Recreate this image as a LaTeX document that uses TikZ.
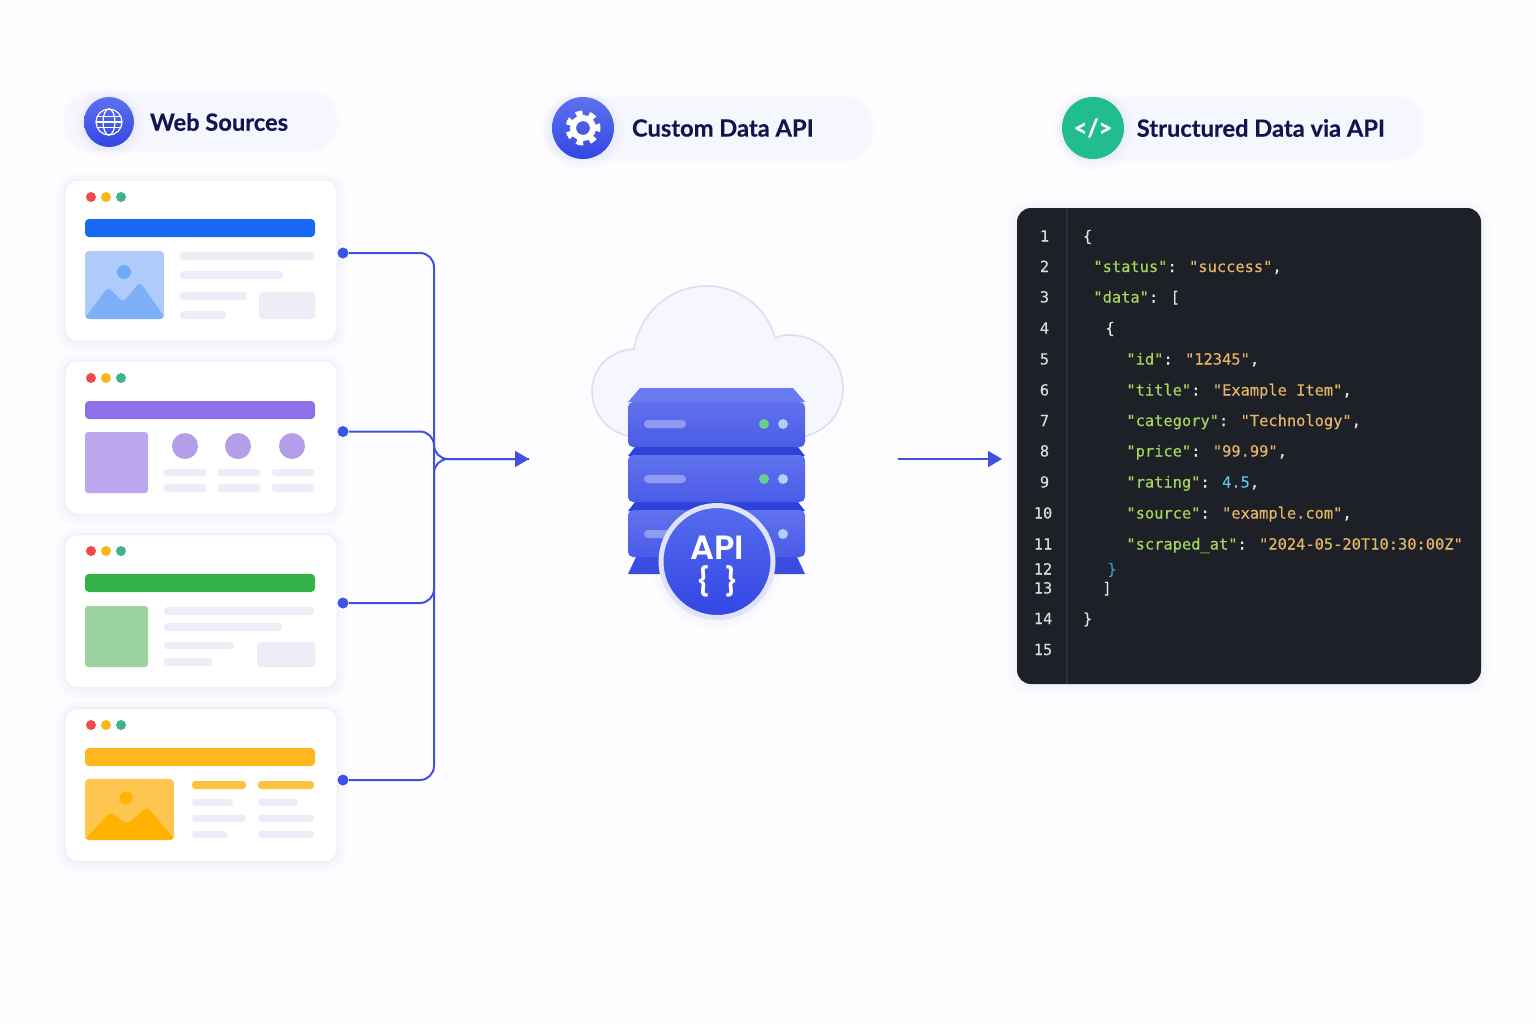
\documentclass[tikz,border=0pt]{standalone}
\usepackage{fontspec}
\usepackage{tikz}
\usetikzlibrary{arrows.meta,positioning,shapes.geometric}
\setmainfont{Poppins}
\newfontfamily\headfont{Poppins}[UprightFont={* Medium},BoldFont={* SemiBold}]
\newfontfamily\titlefont{Lato}[BoldFeatures={FakeBold=.4}]
\newfontfamily\codefont{DejaVu Sans Mono}[FakeBold=.25]

\definecolor{pagebg}{HTML}{FDFDFF}
\definecolor{pillbg}{HTML}{F5F6FE}
\definecolor{navy}{HTML}{12134F}
\definecolor{wire}{HTML}{3F51DD}
\definecolor{wiredot}{HTML}{3B54E8}
\definecolor{halo}{HTML}{5C66C8}
\definecolor{cardline}{HTML}{EEEFF8}
\definecolor{cloudline}{HTML}{DCDEF4}
\definecolor{skelgray}{HTML}{ECEDF6}
\definecolor{dotred}{HTML}{EF4B4B}
\definecolor{dotyellow}{HTML}{FBB614}
\definecolor{dotgreen}{HTML}{3CB491}
\definecolor{blueA}{HTML}{5C72EE}
\definecolor{blueB}{HTML}{3346E4}
\definecolor{unitA}{HTML}{6172EE}
\definecolor{unitB}{HTML}{4A5BE8}
\definecolor{unitdark}{HTML}{2F41DC}
\definecolor{unitfoot}{HTML}{3A4CE2}
\definecolor{ledgreen}{HTML}{66CF8E}
\definecolor{ledblue}{HTML}{A9D3FA}
\definecolor{codegreen}{HTML}{21BD8D}
\definecolor{panelbg}{HTML}{1D2026}
\definecolor{panelsep}{HTML}{2C2F36}
\definecolor{numgray}{HTML}{D9DBDE}
\definecolor{keygreen}{HTML}{A5D65A}
\definecolor{strorange}{HTML}{E5B567}
\definecolor{numblue}{HTML}{5CC1E8}
\definecolor{braceblue}{HTML}{3A9EC9}
\definecolor{punct}{HTML}{E4E5E8}

\newcommand{\ck}[1]{\textcolor{keygreen}{#1}}
\newcommand{\cs}[1]{\textcolor{strorange}{#1}}
\newcommand{\cn}[1]{\textcolor{numblue}{#1}}

\begin{document}
\begin{tikzpicture}[x=0.5pt,y=-0.5pt,>={Triangle[length=7pt,width=8pt]},node distance=2.1pt]
  \tikzstyle{softhalo}=[preaction={draw=halo,draw opacity=.014,line width=9pt,transform canvas={yshift=-1pt}},
                        preaction={draw=halo,draw opacity=.016,line width=5.5pt,transform canvas={yshift=-1pt}},
                        preaction={draw=halo,draw opacity=.02,line width=2.5pt,transform canvas={yshift=-.5pt}}]
  \tikzstyle{pill}=[rectangle,rounded corners=14pt,fill=pillbg,inner sep=0pt,minimum height=30pt,
                    preaction={draw=halo,draw opacity=.012,line width=3pt}]
  \tikzstyle{icon}=[circle,inner sep=0pt,softhalo]
  \tikzstyle{blueicon}=[icon,top color=blueA,bottom color=blueB]
  \tikzstyle{headline}=[text=navy,inner sep=0pt,font=\titlefont\bfseries\fontsize{11.85}{14}\selectfont]
  \tikzstyle{card}=[rectangle,rounded corners=6pt,fill=white,draw=cardline,line width=.5pt,
                    minimum width=136pt,inner sep=0pt,softhalo]
  \tikzstyle{wdot}=[circle,minimum size=5pt,inner sep=0pt]
  \tikzstyle{skel}=[fill=skelgray,rounded corners=1.6pt]
  \tikzstyle{hbar}=[rounded corners=2pt]
  \tikzstyle{port}=[circle,fill=wiredot,minimum size=5.5pt,inner sep=0pt]
  \tikzstyle{link}=[draw=wire,line width=1pt,rounded corners=7pt]
  \tikzstyle{unit}=[rectangle,rounded corners=2.5pt,minimum width=88.5pt,inner sep=0pt,top color=unitA,bottom color=unitB]
  \tikzstyle{slot}=[fill=white,fill opacity=.35,rounded corners=2pt]
  \tikzstyle{ledg}=[circle,fill=ledgreen,minimum size=5pt,inner sep=0pt]
  \tikzstyle{ledb}=[circle,fill=ledblue,minimum size=5pt,inner sep=0pt]
  \tikzstyle{codeline}=[anchor=base west,inner sep=0pt,text=punct,font=\codefont\fontsize{7.69}{9}\selectfont]
  \tikzstyle{numline}=[anchor=base,inner sep=0pt,text=numgray,font=\codefont\fontsize{7.69}{9}\selectfont]

  \useasboundingbox (0,0) rectangle (1536,1024);
  \fill[pagebg] (0,0) rectangle (1536,1024);

  % headers
  \node[pill,minimum width=136pt,minimum height=29.5pt] (webpill) at (201,121.5) {};
  \node[blueicon,minimum size=25pt] (globe) at (109,122) {};
  \node[headline,right=7.6pt of globe] (webtitle) {Web Sources};
  \draw[white,line width=.6pt] (globe.center) circle [radius=13];
  \draw[white,line width=.6pt] (globe.center) ellipse [x radius=6,y radius=13];
  \draw[white,line width=.6pt] (97.2,116.5) -- (120.8,116.5) (96,122) -- (122,122) (97.2,127.5) -- (120.8,127.5);

  \node[pill,minimum width=163.5pt,minimum height=31.5pt] (apipill) at (708.5,128.5) {};
  \node[blueicon,minimum size=31pt] (gear) at (583,128) {};
  \node[headline,right=8.6pt of gear] (apititle) {Custom Data API};
  \draw[white,line width=2.5pt,dash pattern=on 3.34pt off 3.34pt,dash phase=1.67pt] (gear.center) circle [radius=15];
  \draw[white,line width=3pt] (gear.center) circle [radius=10];

  \node[pill,minimum width=181pt,minimum height=31.5pt] (datapill) at (1241.5,128.5) {};
  \node[icon,fill=codegreen,minimum size=31pt] (code) at (1093,128) {};
  \node[headline,right=6pt of code] (datatitle) {Structured Data via API};
  \node[inner sep=0pt,text=white,font=\titlefont\bfseries\fontsize{12}{14}\selectfont] (codeglyph) at (code.center) {</>};

  % web page cards
  \node[card,minimum height=80.5pt] (web1) at (201,260.5) {};
  \node[wdot,fill=dotred] (w1a) at (91,197) {};
  \node[wdot,fill=dotyellow,right=of w1a] (w1b) {};
  \node[wdot,fill=dotgreen,right=of w1b] (w1c) {};
  \fill[hbar,fill={rgb,255:red,23;green,105;blue,245}] (85,219) rectangle (315,237);
  \begin{scope}
    \clip[rounded corners=2pt] (85,251) rectangle (164,319);
    \fill[fill={rgb,255:red,174;green,203;blue,250}] (85,251) rectangle (164,319);
    \fill[fill={rgb,255:red,125;green,176;blue,248},rounded corners=2pt] (80,325) -- (108,287) -- (123,302) -- (140,282) -- (170,325) -- cycle;
  \end{scope}
  \fill[fill={rgb,255:red,110;green,168;blue,248}] (124,272) circle [radius=7];
  \fill[skel] (180,252) rectangle (314,260);
  \fill[skel] (180,271) rectangle (283,279);
  \fill[skel] (180,292) rectangle (247,300);
  \fill[skel] (180,311) rectangle (226,319);
  \fill[skel] (259,292) rectangle (315,319);

  \node[card,minimum height=76.5pt] (web2) at (201,437.5) {};
  \node[wdot,fill=dotred] (w2a) at (91,378) {};
  \node[wdot,fill=dotyellow,right=of w2a] (w2b) {};
  \node[wdot,fill=dotgreen,right=of w2b] (w2c) {};
  \fill[hbar,fill={rgb,255:red,143;green,112;blue,232}] (85,401) rectangle (315,419);
  \fill[fill={rgb,255:red,188;green,166;blue,238},rounded corners=1.5pt] (85,432) rectangle (148,493);
  \fill[fill={rgb,255:red,180;green,158;blue,234}] (185,446) circle [radius=13];
  \fill[fill={rgb,255:red,180;green,158;blue,234}] (238,446) circle [radius=13];
  \fill[fill={rgb,255:red,180;green,158;blue,234}] (292,446) circle [radius=13];
  \fill[skel] (164,469) rectangle (206,476);
  \fill[skel] (218,469) rectangle (260,476);
  \fill[skel] (272,469) rectangle (314,476);
  \fill[skel] (164,484) rectangle (206,492);
  \fill[skel] (218,484) rectangle (260,492);
  \fill[skel] (272,484) rectangle (314,492);

  \node[card,minimum height=76.5pt] (web3) at (201,611) {};
  \node[wdot,fill=dotred] (w3a) at (91,551) {};
  \node[wdot,fill=dotyellow,right=of w3a] (w3b) {};
  \node[wdot,fill=dotgreen,right=of w3b] (w3c) {};
  \fill[hbar,fill={rgb,255:red,52;green,178;blue,74}] (85,574) rectangle (315,592);
  \fill[fill={rgb,255:red,157;green,211;blue,160},rounded corners=1.5pt] (85,606) rectangle (148,667);
  \fill[skel] (164,607) rectangle (314,615);
  \fill[skel] (164,623) rectangle (282,631);
  \fill[skel] (164,642) rectangle (234,649);
  \fill[skel] (164,658) rectangle (212,666);
  \fill[skel] (257,642) rectangle (315,667);

  \node[card,minimum height=76.5pt] (web4) at (201,785) {};
  \node[wdot,fill=dotred] (w4a) at (91,725) {};
  \node[wdot,fill=dotyellow,right=of w4a] (w4b) {};
  \node[wdot,fill=dotgreen,right=of w4b] (w4c) {};
  \fill[hbar,fill={rgb,255:red,255;green,184;blue,31}] (85,748) rectangle (315,766);
  \begin{scope}
    \clip[rounded corners=2pt] (85,779) rectangle (174,840);
    \fill[fill={rgb,255:red,255;green,198;blue,79}] (85,779) rectangle (174,840);
    \fill[fill={rgb,255:red,255;green,179;blue,0},rounded corners=2pt] (80,845) -- (110,812) -- (127,824) -- (147,807) -- (180,845) -- cycle;
  \end{scope}
  \fill[fill={rgb,255:red,255;green,179;blue,0}] (126,798) circle [radius=6.5];
  \fill[skel,fill={rgb,255:red,253;green,194;blue,62}] (192,781) rectangle (246,789);
  \fill[skel,fill={rgb,255:red,253;green,194;blue,62}] (258,781) rectangle (314,789);
  \fill[skel] (192,799) rectangle (233,806);
  \fill[skel] (258,799) rectangle (298,806);
  \fill[skel] (192,815) rectangle (246,822);
  \fill[skel] (258,815) rectangle (314,822);
  \fill[skel] (192,831) rectangle (227,838);
  \fill[skel] (258,831) rectangle (314,838);

  % connectors
  \node[port] (p1) at (343,253) {};
  \node[port] (p2) at (343,431.5) {};
  \node[port] (p3) at (343,603) {};
  \node[port] (p4) at (343,780) {};
  \coordinate (bus) at (434,459);
  \coordinate (busend) at (529,459);
  \coordinate (apiout) at (898,459);
  \coordinate (apiin) at (1002,459);
  \draw[link,->] (p1) -| (bus) -- (busend);
  \draw[link] (p4) -| (bus) -- (busend);
  \draw[link] (p2) -| (bus);
  \draw[link] (p3) -| (bus);
  \draw[link,->] (apiout) -- (apiin);

  % cloud and server
  \draw[fill=pillbg,draw=cloudline,line width=.8pt]
    (628,436) .. controls (606,431) and (592,412) .. (592,391)
    .. controls (592,368) and (610,350) .. (634,349)
    .. controls (640,313) and (670,286) .. (706,286)
    .. controls (740,286) and (767,308) .. (775,338)
    .. controls (782,335) and (786,335) .. (790,335)
    .. controls (820,335) and (843,360) .. (843,388)
    .. controls (843,412) and (828,430) .. (806,436) -- cycle;
  \fill[fill={rgb,255:red,106;green,122;blue,240}] (640,388) -- (793,388) -- (805,402) -- (628,402) -- cycle;
  \fill[fill=unitdark] (635,447) -- (798,447) -- (805,456) -- (628,456) -- cycle;
  \fill[fill=unitdark] (635,502) -- (798,502) -- (805,511) -- (628,511) -- cycle;
  \fill[fill=unitfoot] (636,557) -- (797,557) -- (805,574) -- (628,574) -- cycle;
  \node[unit,minimum height=22.5pt] (srv1) at (716.5,424.5) {};
  \node[unit,minimum height=23.5pt] (srv2) at (716.5,478.5) {};
  \node[unit,minimum height=23.5pt] (srv3) at (716.5,533.5) {};
  \fill[slot] (644,420) rectangle (686,428);
  \fill[slot] (644,475) rectangle (686,483);
  \fill[slot] (644,530) rectangle (686,538);
  \node[ledg] (g1) at (764,424) {};
  \node[ledb] (b1) at (783,424) {};
  \node[ledg] (g2) at (764,479) {};
  \node[ledb] (b2) at (783,479) {};
  \node[ledg] (g3) at (764,534) {};
  \node[ledb] (b3) at (783,534) {};
  \node[circle,top color=blueA!85!blueB,bottom color=blueB,draw={rgb,255:red,223;green,227;blue,251},line width=2.5pt,
        minimum size=56pt,inner sep=0pt,softhalo] (badge) at (717,561.5) {};
  \node[inner sep=0pt,text=white,font=\headfont\bfseries\fontsize{16.8}{18}\selectfont] (apilabel) at (717,548) {API};
  \node[inner sep=0pt,text=white,font=\headfont\bfseries\fontsize{14}{16}\selectfont] (apibrace) at (717,581) {\{\hspace{7pt}\}};

  % code panel
  \node[rectangle,rounded corners=7pt,fill=panelbg,minimum width=232pt,minimum height=238pt,inner sep=0pt,softhalo] (panel) at (1249,446) {};
  \draw[panelsep,line width=.6pt] (1067,208) -- (1067,684);

  \node[numline] (n1) at (1044.5,241.5) {1};
  \node[numline] (n2) at (1044.5,272) {2};
  \node[numline] (n3) at (1044.5,302.5) {3};
  \node[numline] (n4) at (1044.5,333.5) {4};
  \node[numline] (n5) at (1044.5,364.5) {5};
  \node[numline] (n6) at (1044.5,395.5) {6};
  \node[numline] (n7) at (1044.5,426) {7};
  \node[numline] (n8) at (1044.5,456.5) {8};
  \node[numline] (n9) at (1044.5,487.5) {9};
  \node[numline] (n10) at (1043,518.5) {10};
  \node[numline] (n11) at (1043,549.5) {11};
  \node[numline] (n12) at (1043,574.5) {12};
  \node[numline] (n13) at (1043,593.5) {13};
  \node[numline] (n14) at (1043,624) {14};
  \node[numline] (n15) at (1043,655) {15};

  \node[codeline] (c1) at (1082.5,241.5) {\{};
  \node[codeline] (c2) at (1093,272) {\ck{"status"}: \cs{"success"},};
  \node[codeline] (c3) at (1093,302.5) {\ck{"data"}: [};
  \node[codeline] (c4) at (1105,333.5) {\{};
  \node[codeline] (c5) at (1126,364.5) {\ck{"id"}: \cs{"12345"},};
  \node[codeline] (c6) at (1126,395.5) {\ck{"title"}: \cs{"Example Item"},};
  \node[codeline] (c7) at (1126,426) {\ck{"category"}: \cs{"Technology"},};
  \node[codeline] (c8) at (1126,456.5) {\ck{"price"}: \cs{"99.99"},};
  \node[codeline] (c9) at (1126,487.5) {\ck{"rating"}: \cn{4.5},};
  \node[codeline] (c10) at (1126,518.5) {\ck{"source"}: \cs{"example.com"},};
  \node[codeline] (c11) at (1126,549.5) {\ck{"scraped\_at"}: \cs{"2024-05-20T10:30:00Z"}};
  \node[codeline,text=braceblue] (c12) at (1107,574.5) {\}};
  \node[codeline] (c13) at (1102,593.5) {]};
  \node[codeline] (c14) at (1082.5,624) {\}};
\end{tikzpicture}
\end{document}
